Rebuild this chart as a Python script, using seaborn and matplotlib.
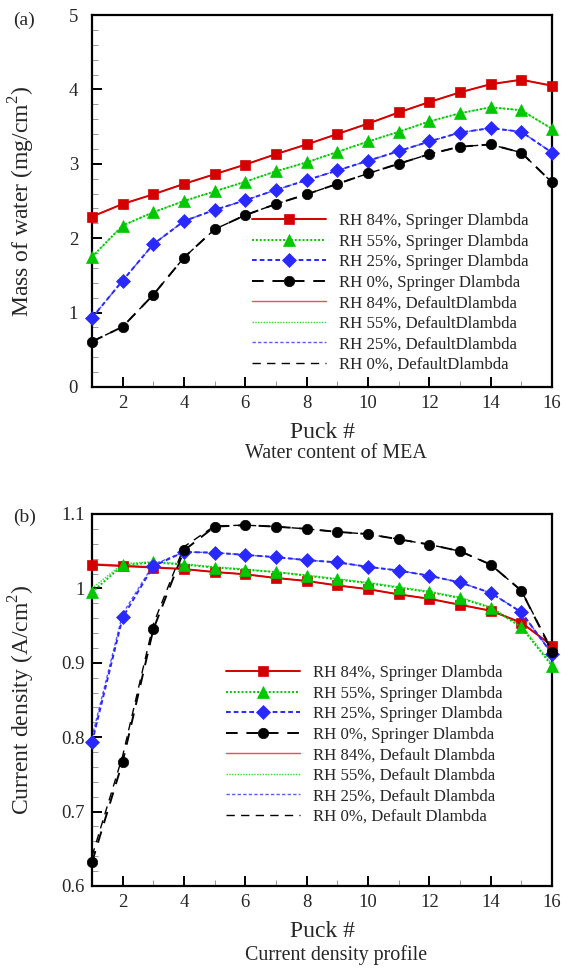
import numpy as np
import pandas as pd
import matplotlib
matplotlib.use("Agg")
import matplotlib.pyplot as plt
from matplotlib.ticker import MultipleLocator, FuncFormatter
import seaborn as sns

sns.set_theme(style="white")
plt.rcParams['font.family'] = ['Liberation Serif', 'DejaVu Serif']
plt.rcParams['mathtext.fontset'] = 'custom'
plt.rcParams['mathtext.rm'] = 'Liberation Serif'

puck = list(range(1, 17))
rh_labels = ["RH 84%", "RH 55%", "RH 25%", "RH 0%"]

# (a) Mass of water, Springer Dlambda
water_rh84 = [2.29, 2.46, 2.59, 2.73, 2.86, 2.99, 3.13, 3.26, 3.40, 3.54, 3.69, 3.83, 3.96, 4.07, 4.13, 4.05]
water_rh55 = [1.75, 2.17, 2.35, 2.50, 2.63, 2.76, 2.90, 3.02, 3.16, 3.30, 3.43, 3.57, 3.68, 3.76, 3.72, 3.47]
water_rh25 = [0.93, 1.43, 1.92, 2.23, 2.38, 2.51, 2.65, 2.78, 2.91, 3.04, 3.17, 3.30, 3.42, 3.48, 3.43, 3.15]
water_rh0 = [0.61, 0.81, 1.24, 1.74, 2.12, 2.31, 2.46, 2.59, 2.73, 2.87, 3.00, 3.13, 3.23, 3.26, 3.15, 2.75]
# (a) Default Dlambda (nearly identical)
water_def_rh84 = [2.29, 2.46, 2.59, 2.73, 2.86, 2.99, 3.13, 3.26, 3.40, 3.54, 3.69, 3.83, 3.96, 4.07, 4.13, 4.05]
water_def_rh55 = [1.75, 2.17, 2.35, 2.50, 2.63, 2.76, 2.90, 3.02, 3.16, 3.30, 3.43, 3.57, 3.68, 3.76, 3.72, 3.47]
water_def_rh25 = [0.93, 1.43, 1.92, 2.23, 2.38, 2.51, 2.65, 2.78, 2.91, 3.04, 3.17, 3.30, 3.42, 3.48, 3.43, 3.15]
water_def_rh0 = [0.61, 0.81, 1.24, 1.74, 2.12, 2.31, 2.46, 2.59, 2.73, 2.87, 3.00, 3.13, 3.23, 3.26, 3.15, 2.75]

# (b) Current density, Springer Dlambda
cur_rh84 = [1.032, 1.030, 1.028, 1.026, 1.022, 1.019, 1.014, 1.010, 1.004, 0.999, 0.992, 0.986, 0.978, 0.970, 0.954, 0.923]
cur_rh55 = [0.995, 1.031, 1.035, 1.032, 1.028, 1.025, 1.022, 1.017, 1.012, 1.007, 1.001, 0.995, 0.987, 0.974, 0.948, 0.896]
cur_rh25 = [0.793, 0.961, 1.030, 1.049, 1.048, 1.045, 1.042, 1.038, 1.035, 1.029, 1.024, 1.017, 1.008, 0.994, 0.968, 0.912]
cur_rh0 = [0.632, 0.767, 0.945, 1.051, 1.083, 1.085, 1.083, 1.080, 1.076, 1.073, 1.066, 1.059, 1.050, 1.032, 0.997, 0.915]
# (b) Default Dlambda
cur_def_rh84 = [1.033, 1.031, 1.029, 1.026, 1.022, 1.019, 1.014, 1.010, 1.004, 0.999, 0.992, 0.986, 0.978, 0.970, 0.954, 0.923]
cur_def_rh55 = [1.000, 1.033, 1.036, 1.033, 1.029, 1.026, 1.022, 1.018, 1.013, 1.008, 1.002, 0.996, 0.988, 0.975, 0.950, 0.898]
cur_def_rh25 = [0.800, 0.966, 1.032, 1.049, 1.048, 1.045, 1.042, 1.038, 1.035, 1.029, 1.024, 1.017, 1.008, 0.994, 0.968, 0.912]
cur_def_rh0 = [0.640, 0.775, 0.952, 1.056, 1.084, 1.085, 1.083, 1.080, 1.076, 1.073, 1.066, 1.059, 1.050, 1.032, 0.997, 0.917]

colors = ["#d40000", "#00c800", "#2828ff", "#000000"]
def_colors = ["#ee5050", "#30dd30", "#5a5aff", "#000000"]
spr_styles = ["-", (0, (1, 1)), (0, (2.4, 1.6)), (0, (6, 4.5))]
def_styles = ["-", (0, (1, 1)), (0, (2.4, 1.6)), (0, (6, 4.5))]
markers = ["s", "^", "D", "o"]
msizes = [7.5, 8.5, 7.5, 7.5]

fig = plt.figure(figsize=(5.7, 9.68), dpi=100)
W, H = 570, 968
ax1 = fig.add_axes([92 / W, 1 - 387 / H, 460 / W, 372 / H])
ax2 = fig.add_axes([92 / W, 1 - 886 / H, 460 / W, 372 / H])


def draw(ax, spr, dfl, def_name):
    for i in range(4):
        df = pd.DataFrame({"puck": puck, "val": spr[i]})
        sns.lineplot(data=df, x="puck", y="val", ax=ax, color=colors[i],
                     linestyle=spr_styles[i], linewidth=1.4, marker=markers[i],
                     markersize=msizes[i], markeredgewidth=0.5,
                     markeredgecolor=colors[i], clip_on=False, zorder=3,
                     label=f"{rh_labels[i]}, Springer Dlambda")
    for i in range(4):
        df = pd.DataFrame({"puck": puck, "val": dfl[i]})
        sns.lineplot(data=df, x="puck", y="val", ax=ax, color=def_colors[i],
                     linestyle=def_styles[i], linewidth=1.0, zorder=2,
                     label=f"{rh_labels[i]}, {def_name}")


draw(ax1, [water_rh84, water_rh55, water_rh25, water_rh0],
     [water_def_rh84, water_def_rh55, water_def_rh25, water_def_rh0], "DefaultDlambda")
draw(ax2, [cur_rh84, cur_rh55, cur_rh25, cur_rh0],
     [cur_def_rh84, cur_def_rh55, cur_def_rh25, cur_def_rh0], "Default Dlambda")

for ax in (ax1, ax2):
    ax.set_xlim(1, 16)
    ax.xaxis.set_major_locator(MultipleLocator(2))
    ax.xaxis.set_minor_locator(MultipleLocator(1))
    ax.tick_params(which="both", direction="in", top=False, right=False,
                   left=True, bottom=True, labelsize=13.5)
    ax.tick_params(axis="x", pad=6)
    ax.tick_params(which="major", length=7, width=1.4, color="black")
    ax.tick_params(which="minor", length=4, width=0.7, color="#999999")
    for s in ax.spines.values():
        s.set_linewidth(1.6)
        s.set_color("black")
    ax.set_xlabel("Puck #", fontsize=17)
    ax.xaxis.set_label_coords(0.5, -0.095)

ax1.set_ylim(0, 5)
ax1.yaxis.set_major_locator(MultipleLocator(1))
ax1.yaxis.set_minor_locator(MultipleLocator(0.2))
ax1.tick_params(axis="y", pad=10)
ax1.set_ylabel("Mass of water (mg/cm$^2$)", fontsize=17)
ax1.yaxis.set_label_coords(-0.12, 0.5)

ax2.set_ylim(0.6, 1.1)
ax2.yaxis.set_major_locator(MultipleLocator(0.1))
ax2.yaxis.set_minor_locator(MultipleLocator(0.02))
ax2.yaxis.set_major_formatter(FuncFormatter(lambda v, p: "1" if abs(v - 1) < 1e-9 else f"{v:.1f}"))
ax2.tick_params(axis="y", pad=5)
ax2.set_ylabel("Current density (A/cm$^2$)", fontsize=17)
ax2.yaxis.set_label_coords(-0.12, 0.5)

leg_kw = dict(frameon=False, fontsize=12.1, handlelength=4.4, handletextpad=0.8,
              labelspacing=0.27, borderpad=0.0, borderaxespad=0.0)
ax1.legend(loc="upper left", bbox_to_anchor=((252 - 92) / 460, (387 - 213) / 372), **leg_kw)
ax2.legend(loc="upper left", bbox_to_anchor=((226 - 92) / 460, (886 - 665) / 372), **leg_kw)

fig.text(336 / W, 1 - 453 / H, "Water content of MEA", ha="center", va="center", fontsize=14.4)
fig.text(336 / W, 1 - 955 / H, "Current density profile", ha="center", va="center", fontsize=14.4)
fig.text(13 / W, 1 - 20 / H, "(a)", ha="left", va="center", fontsize=14)
fig.text(13 / W, 1 - 517 / H, "(b)", ha="left", va="center", fontsize=14)

fig.savefig("out.png", dpi=100)
